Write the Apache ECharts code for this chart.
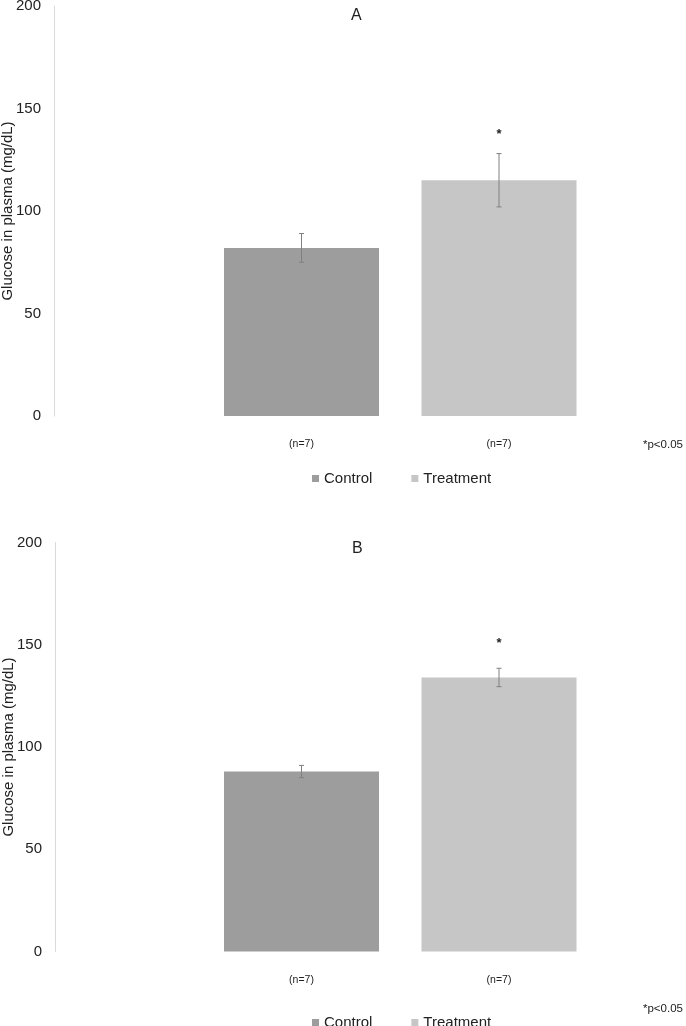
<!DOCTYPE html>
<html>
<head>
<meta charset="utf-8">
<script src="https://cdn.jsdelivr.net/npm/echarts@6/dist/echarts.min.js"></script>
<style>html,body{margin:0;padding:0;background:#fff}#c{width:686px;height:1026px}</style>
</head>
<body>
<div id="c"></div>
<script>
// ---- data ----
const categories = ['Control', 'Treatment'];
const nLabels = ['(n=7)', '(n=7)'];
const panelTitles = ['A', 'B'];
const meansA = [82, 115];
const errA = [7, 13];
const meansB = [88, 134];
const errB = [3, 4.5];
const sigA = [null, 139];   // asterisk height (value units)
const sigB = [null, 152];
const yTicks = [0, 50, 100, 150, 200];
const footnote = '*p<0.05';

const colors = ['#9d9d9d', '#c6c6c7'];
const FONT = 'Liberation Sans, Arial, sans-serif';

function panelSeries(means, errs, sig, gi) {
  const s = [];
  categories.forEach((c, i) => {
    const d = categories.map((_, j) => j === i ? means[i] : '-');
    s.push({
      name: c, type: 'bar', xAxisIndex: gi, yAxisIndex: gi,
      data: d, barWidth: 155, barGap: '-100%',
      itemStyle: { color: colors[i] }, silent: true
    });
  });
  s.push({
    type: 'custom', xAxisIndex: gi, yAxisIndex: gi, silent: true, z: 5,
    data: means.map((m, i) => [i, m - errs[i], m + errs[i]]),
    encode: { x: 0, y: [1, 2] },
    renderItem: function (params, api) {
      const x = api.value(0);
      const lo = api.coord([x, api.value(1)]);
      const hi = api.coord([x, api.value(2)]);
      const cap = 2.5;
      const st = { stroke: '#808080', lineWidth: 1 };
      return { type: 'group', children: [
        { type: 'line', shape: { x1: lo[0], y1: lo[1], x2: hi[0], y2: hi[1] }, style: st },
        { type: 'line', shape: { x1: hi[0] - cap, y1: hi[1], x2: hi[0] + cap, y2: hi[1] }, style: st },
        { type: 'line', shape: { x1: lo[0] - cap, y1: lo[1], x2: lo[0] + cap, y2: lo[1] }, style: st }
      ]};
    }
  });
  s.push({
    type: 'custom', xAxisIndex: gi, yAxisIndex: gi, silent: true, z: 6,
    data: sig.map((v, i) => v == null ? null : [i, v]).filter(d => d),
    encode: { x: 0, y: 1 },
    renderItem: function (params, api) {
      const p = api.coord([api.value(0), api.value(1)]);
      return { type: 'text', x: p[0], y: p[1] + 3,
        style: { text: '*', fill: '#222', font: 'bold 13px ' + FONT, align: 'center', verticalAlign: 'middle' } };
    }
  });
  return s;
}

const gridTops = [6, 542.5];
const gridH = [410, 409];

const option = {
  animation: false,
  backgroundColor: '#fff',
  title: [
    { text: panelTitles[0], left: 346, top: 3, padding: 5, textStyle: { fontSize: 16, fontWeight: 'normal', color: '#222', fontFamily: FONT } },
    { text: panelTitles[1], left: 347, top: 536, padding: 5, textStyle: { fontSize: 16, fontWeight: 'normal', color: '#222', fontFamily: FONT } },
    { text: footnote, left: 638, top: 434, textStyle: { fontSize: 11.5, fontWeight: 'normal', color: '#222', fontFamily: FONT } },
    { text: footnote, left: 638, top: 998, textStyle: { fontSize: 11.5, fontWeight: 'normal', color: '#222', fontFamily: FONT } }
  ],
  legend: [
    { data: categories, left: 307, top: 466, itemWidth: 7, itemHeight: 7, itemGap: 39, icon: 'rect',
      textStyle: { fontSize: 15, color: '#222', fontFamily: FONT }, selectedMode: false },
    { data: categories, left: 307, top: 1010, itemWidth: 7, itemHeight: 7, itemGap: 39, icon: 'rect',
      textStyle: { fontSize: 15, color: '#222', fontFamily: FONT }, selectedMode: false }
  ],
  grid: [
    { left: 202.75, right: 88.25, top: gridTops[0], height: gridH[0], containLabel: false, outerBoundsMode: 'none' },
    { left: 202.75, right: 88.25, top: gridTops[1], height: gridH[1], containLabel: false, outerBoundsMode: 'none' }
  ],
  xAxis: [0, 1].map(gi => ({
    type: 'category', gridIndex: gi, data: categories,
    axisLine: { show: false }, axisTick: { show: false },
    axisLabel: { formatter: (v, i) => nLabels[i], margin: 23, fontSize: 10.5, color: '#222', fontFamily: FONT }
  })),
  yAxis: [0, 1].map(gi => ({
    type: 'value', gridIndex: gi, min: yTicks[0], max: yTicks[yTicks.length - 1], interval: 50,
    offset: gi === 0 ? 148.75 : 147.75,
    name: 'Glucose in plasma (mg/dL)', nameLocation: 'middle', nameGap: 39, nameMoveOverlap: false,
    nameTextStyle: { fontSize: 15, color: '#222', fontFamily: FONT },
    axisLine: { show: true, lineStyle: { color: '#d9d9d9', width: 1 } },
    axisTick: { show: false }, splitLine: { show: false },
    axisLabel: { margin: 13, fontSize: 15, color: '#222', fontFamily: FONT }
  })),
  series: [].concat(panelSeries(meansA, errA, sigA, 0), panelSeries(meansB, errB, sigB, 1))
};

const chart = echarts.init(document.getElementById('c'), null, { renderer: 'canvas' });
chart.setOption(option);
</script>
</body>
</html>
